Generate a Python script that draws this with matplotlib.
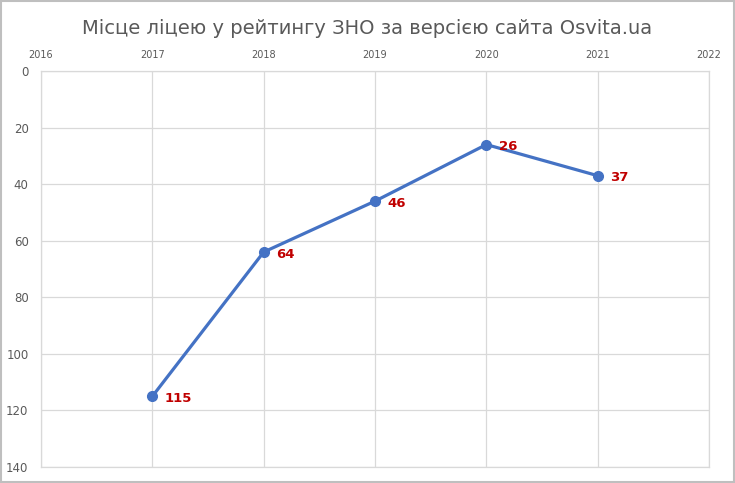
import matplotlib
matplotlib.use("Agg")
import matplotlib.pyplot as plt
from matplotlib.patches import Rectangle

years = [2017, 2018, 2019, 2020, 2021]
places = [115, 64, 46, 26, 37]
x_ticks = [2016, 2017, 2018, 2019, 2020, 2021, 2022]
y_ticks = [0, 20, 40, 60, 80, 100, 120, 140]
title = "Місце ліцею у рейтингу ЗНО за версією сайта Osvita.ua"

fig = plt.figure(figsize=(7.35, 4.83), dpi=100)
ax = fig.add_axes([0.0558, 0.033, 0.9088, 0.82])

ax.plot(years, places, color="#4472C4", linewidth=2.3, marker="o",
        markersize=7, zorder=3)
for x, y in zip(years, places):
    ax.annotate(str(y), (x, y), xytext=(9, -4), textcoords="offset points",
                color="#C00000", fontweight="bold", fontsize=9.5)

ax.set_xlim(2016, 2022)
ax.set_ylim(140, 0)
ax.set_xticks(x_ticks)
ax.set_yticks(y_ticks)
ax.xaxis.tick_top()
ax.tick_params(axis="x", length=0, labelsize=7, colors="#595959", pad=8)
ax.tick_params(axis="y", length=0, labelsize=8.5, colors="#595959", pad=9)
ax.grid(True, color="#D9D9D9", linewidth=0.9)
for s in ax.spines.values():
    s.set_color("#D9D9D9")
    s.set_linewidth(0.9)

fig.text(0.5, 0.94, title, ha="center", va="center", fontsize=14, color="#595959")
fig.patches.append(Rectangle((0.002, 0.002), 0.996, 0.996, transform=fig.transFigure,
                             fill=False, edgecolor="#BFBFBF", linewidth=1.5))

fig.savefig("out.png", dpi=100)
